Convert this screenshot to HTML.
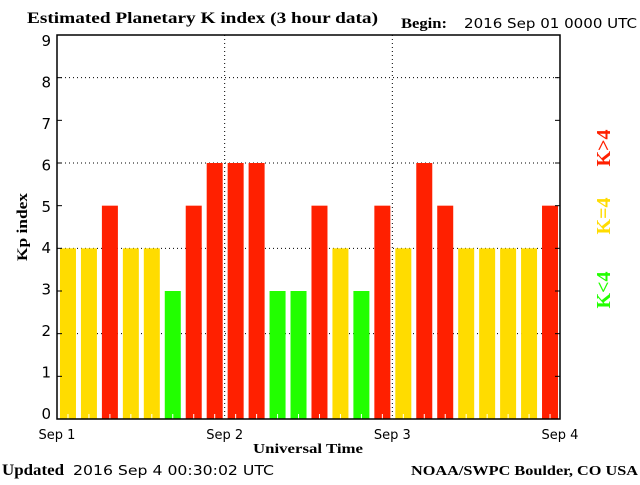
<!DOCTYPE html>
<html><head><meta charset="utf-8"><style>
body{margin:0;background:#fff;width:640px;height:480px;overflow:hidden}
svg text{font-family:"DejaVu Sans","Liberation Sans",sans-serif}
.serif{font-family:"Liberation Serif",serif;font-weight:bold}
</style></head><body>
<svg id="chart" width="640" height="480" xmlns="http://www.w3.org/2000/svg">
<text class="serif" x="27" y="23" font-size="16" textLength="351" lengthAdjust="spacingAndGlyphs">Estimated Planetary K index (3 hour data)</text>
<text class="serif" x="401" y="28" font-size="15" textLength="46" lengthAdjust="spacingAndGlyphs">Begin:</text>
<text x="464" y="28" font-size="13" textLength="173" lengthAdjust="spacingAndGlyphs">2016 Sep 01 0000 UTC</text>
<g id="grid"></g>
<g id="bars"></g>
<rect x="57" y="35" width="503" height="384" fill="none" stroke="#000" stroke-width="1.5"/>
<g id="axes"></g>
<text class="serif" transform="translate(27,227) rotate(-90)" text-anchor="middle" font-size="15" textLength="68" lengthAdjust="spacingAndGlyphs">Kp index</text>
<text class="serif" x="253" y="453" font-size="14" textLength="110" lengthAdjust="spacingAndGlyphs">Universal Time</text>
<text class="serif" x="2" y="475" font-size="16" textLength="62" lengthAdjust="spacingAndGlyphs">Updated</text>
<text x="73" y="475" font-size="13" textLength="201" lengthAdjust="spacingAndGlyphs">2016 Sep  4 00:30:02 UTC</text>
<text class="serif" x="411" y="475" font-size="14" textLength="227" lengthAdjust="spacingAndGlyphs">NOAA/SWPC Boulder, CO USA</text>
<text class="serif" transform="translate(610,148) rotate(-90)" text-anchor="middle" font-size="20" fill="#ff2000">K&gt;4</text>
<text class="serif" transform="translate(610,216) rotate(-90)" text-anchor="middle" font-size="20" fill="#ffdc00">K=4</text>
<text class="serif" transform="translate(610,290) rotate(-90)" text-anchor="middle" font-size="20" fill="#22ff00">K&lt;4</text>
</svg>
<script>
const kpValues=[4,4,5,4,4,3,5,6,6,6,3,3,5,4,3,5,4,6,5,4,4,4,4,5];
const dayLabels=["Sep 1","Sep 2","Sep 3","Sep 4"];
const yTicks=[0,1,2,3,4,5,6,7,8,9];
const gridLevels=[2,4,6,8];
const NS="http://www.w3.org/2000/svg";
const X0=57,X1=560,Y0=419,Y1=35;
const xs=i=>X0+(X1-X0)*i/24;
const ys=v=>Y0-(Y0-Y1)*v/9;
const ylab=v=>413-(413-40)*v/9;
function mk(tag,attrs,parent){const e=document.createElementNS(NS,tag);for(const k in attrs)e.setAttribute(k,attrs[k]);parent.appendChild(e);return e;}
const grid=document.getElementById('grid'),bars=document.getElementById('bars'),axes=document.getElementById('axes');
gridLevels.forEach(v=>{const l=mk('line',{x1:X0,x2:X1,y1:ys(v),y2:ys(v),stroke:'#000','stroke-dasharray':'1,3'},grid);

});
[1,2].forEach(d=>{const l=mk('line',{x1:xs(d*8),x2:xs(d*8),y1:Y1,y2:Y0,stroke:'#000','stroke-dasharray':'1,3'},grid);

});
kpValues.forEach((v,i)=>{const c=xs(i+0.5)+0.5;const col=v>4?'#ff2000':(v==4?'#ffdc00':'#22ff00');
const r=mk('rect',{x:c-8,y:ys(v),width:16,height:Y0-ys(v),fill:col},bars);


const t=mk('line',{x1:c,x2:c,y1:Y0-5,y2:Y0,stroke:'#fff'},bars);

});
yTicks.forEach(v=>{const y=ys(v);
mk('line',{x1:X0,x2:X0+5,y1:y,y2:y,stroke:'#000'},axes);
mk('line',{x1:X1-5,x2:X1,y1:y,y2:y,stroke:'#000'},axes);
const t=mk('text',{x:51,y:ylab(v)+6,'text-anchor':'end','font-size':'15'},axes);t.textContent=v;

});
dayLabels.forEach((s,d)=>{const t=mk('text',{x:xs(d*8),y:439,'text-anchor':'middle','font-size':'13'},axes);t.textContent=s;

});
</script>
</body></html>
